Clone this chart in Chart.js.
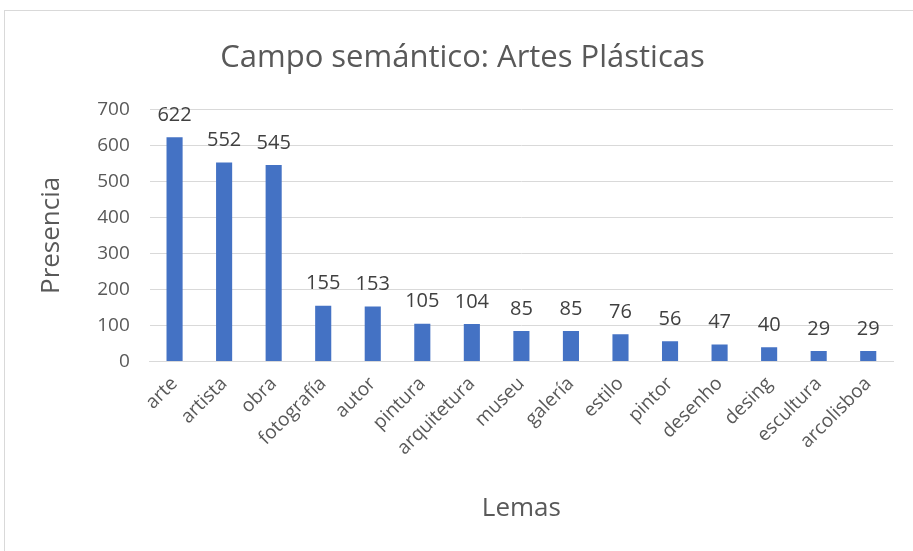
<!DOCTYPE html>
<html>
<head>
<meta charset="utf-8">
<script src="https://cdn.jsdelivr.net/npm/chart.js@4.4.0/dist/chart.umd.min.js"></script>
<style>
  body { margin: 0; background: #fff; }
  #frame {
    position: absolute; left: 4px; top: 10px;
    width: 920px; height: 560px;
    border: 1px solid #d9d9d9; box-sizing: border-box;
  }
  #wrap { position: absolute; left: 0; top: 0; width: 913px; height: 551px; }
</style>
</head>
<body>
<div id="frame"></div>
<div id="wrap"><canvas id="graph"></canvas></div>
<script>
// Chart data
const lemas = ['arte', 'artista', 'obra', 'fotografía', 'autor', 'pintura', 'arquitetura',
    'museu', 'galería', 'estilo', 'pintor', 'desenho', 'desing', 'escultura', 'arcolisboa'];
const presencia = [622, 552, 545, 155, 153, 105, 104, 85, 85, 76, 56, 47, 40, 29, 29];

const textColor = '#595959';
const fontFamily = "'Open Sans', 'Noto Sans', sans-serif";

// draws the value above each bar
const valueLabels = {
    id: 'valueLabels',
    afterDatasetsDraw(chart) {
        const ctx = chart.ctx;
        const meta = chart.getDatasetMeta(0);
        ctx.save();
        ctx.font = '20px ' + fontFamily;
        ctx.fillStyle = '#404040';
        ctx.textAlign = 'center';
        ctx.textBaseline = 'bottom';
        meta.data.forEach((bar, i) => {
            ctx.fillText(presencia[i], bar.x, bar.y - 12);
        });
        ctx.restore();
    }
};

const ctx = document.getElementById('graph').getContext('2d');
const chart = new Chart(ctx, {
    type: 'bar',
    data: {
        labels: lemas,
        datasets: [{
            data: presencia,
            backgroundColor: '#4472C4',
            barPercentage: 0.65,
            categoryPercentage: 0.5
        }]
    },
    options: {
        responsive: true,
        maintainAspectRatio: false,
        animation: false,
        layout: { padding: { left: 32, right: 20, top: 40, bottom: 23 } },
        plugins: {
            legend: { display: false },
            tooltip: { enabled: false },
            title: {
                display: true,
                text: 'Campo semántico: Artes Plásticas',
                color: textColor,
                font: { family: fontFamily, size: 31, weight: 'normal' },
                padding: { top: 0, bottom: 32 }
            }
        },
        scales: {
            x: {
                grid: { display: false },
                border: { color: '#d9d9d9' },
                ticks: {
                    color: textColor,
                    font: { family: fontFamily, size: 19 },
                    maxRotation: 45,
                    minRotation: 45,
                    autoSkip: false
                },
                title: {
                    display: true,
                    text: 'Lemas',
                    color: textColor,
                    font: { family: fontFamily, size: 26 },
                    padding: { top: 30 }
                }
            },
            y: {
                min: 0,
                max: 700,
                grid: { color: '#d9d9d9', drawTicks: false },
                border: { display: false },
                ticks: {
                    stepSize: 100,
                    color: textColor,
                    font: { family: fontFamily, size: 19 },
                    padding: 20
                },
                title: {
                    display: true,
                    text: 'Presencia',
                    color: textColor,
                    font: { family: fontFamily, size: 26 },
                    padding: { bottom: 10 }
                }
            }
        }
    },
    plugins: [valueLabels]
});
</script>
</body>
</html>
